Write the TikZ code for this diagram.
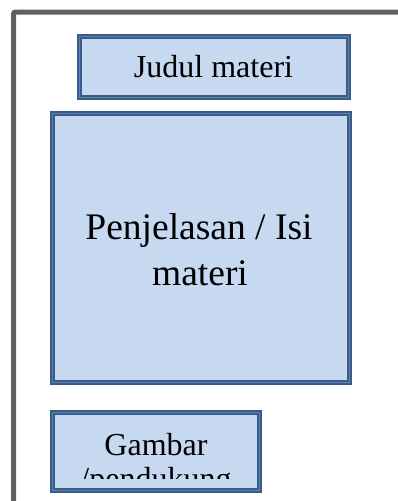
\documentclass[tikz,border=0pt]{standalone}
\usepackage{fontspec}
\setmainfont{Liberation Serif}
\definecolor{boxfill}{RGB}{198,217,241}
\definecolor{boxedge}{RGB}{56,93,138}
\definecolor{boxinner}{RGB}{95,128,170}
\definecolor{framegray}{RGB}{96,96,96}
\tikzset{
  panel/.style={rectangle, draw=boxedge, line width=5pt, fill=boxfill, inner sep=0pt},
  panelinner/.style={draw=boxinner, line width=0.7pt},
  labeltext/.style={anchor=base, inner sep=0pt, text=black},
  titlefont/.style={font=\fontsize{32}{36}\selectfont},
  bodyfont/.style={font=\fontsize{37.5}{46}\selectfont}
}
\begin{document}
\begin{tikzpicture}[x=1pt,y=1pt]
\useasboundingbox (0,0) rectangle (397,-501);

% page frame
\coordinate (fb) at (13.5,-505);
\coordinate (fc) at (13.5,-12);
\coordinate (fr) at (402,-12);
\draw[framegray, line width=5pt, rounded corners=2pt] (fb) -- (fc) -- (fr);

% title panel
\node[panel, minimum width=269pt, minimum height=61pt] (title) at (214,-67) {};
\draw[panelinner] ([shift={(2.6,-2.6)}]title.north west) rectangle ([shift={(-2.6,2.6)}]title.south east);
\node[labeltext, titlefont] (titletxt) at (213.5,-77) {Judul materi};

% content panel
\node[panel, minimum width=297pt, minimum height=269pt] (body) at (201,-248) {};
\draw[panelinner] ([shift={(2.6,-2.6)}]body.north west) rectangle ([shift={(-2.6,2.6)}]body.south east);
\node[labeltext, bodyfont] (bodyone) at (199,-239) {Penjelasan / Isi};
\node[labeltext, bodyfont] (bodytwo) at (200,-285) {materi};

% picture panel
\node[panel, minimum width=207pt, minimum height=78pt] (pic) at (156,-451.5) {};
\draw[panelinner] ([shift={(2.6,-2.6)}]pic.north west) rectangle ([shift={(-2.6,2.6)}]pic.south east);
\begin{scope}
  \clip (56,-416) rectangle (256,-478);
  \node[labeltext, titlefont] (picone) at (156,-455) {Gambar};
  \node[labeltext, titlefont] (pictwo) at (156,-489) {/pendukung};
\end{scope}
\end{tikzpicture}
\end{document}
